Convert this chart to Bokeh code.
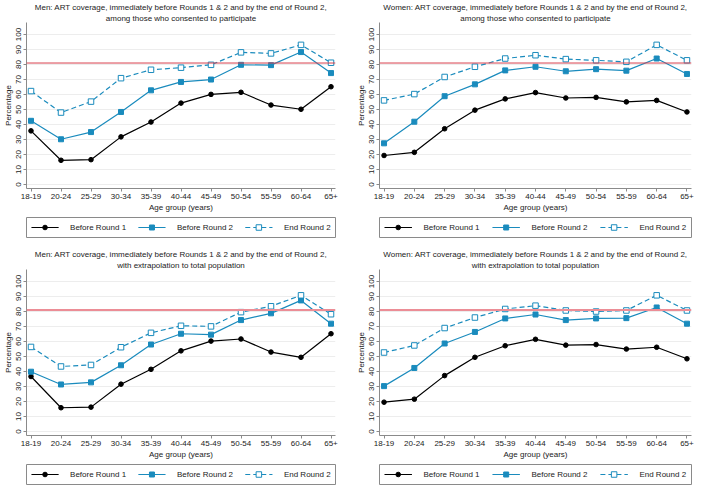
from bokeh.plotting import figure
from bokeh.layouts import column, row, Spacer
from bokeh.models import FixedTicker, Span, Title
from bokeh.core.properties import value
from bokeh.embed import file_html
from bokeh.resources import INLINE

age_groups = ["18-19", "20-24", "25-29", "30-34", "35-39", "40-44",
              "45-49", "50-54", "55-59", "60-64", "65+"]
series_names = ["Before Round 1", "Before Round 2", "End Round 2"]
target = 81
y_ticks = [0, 10, 20, 30, 40, 50, 60, 70, 80, 90, 100]

men_consented_r1 = [35.8, 16.2, 16.6, 31.8, 41.7, 54.3, 60.1, 61.5, 53.0, 50.2, 65.2]
men_consented_r2 = [42.5, 30.2, 35.0, 48.4, 62.8, 68.4, 70.0, 79.8, 79.6, 88.3, 74.3]
men_consented_end = [62.3, 48.0, 55.3, 70.9, 76.5, 77.9, 79.8, 88.1, 87.4, 93.1, 81.2]

women_consented_r1 = [19.4, 21.5, 37.2, 49.6, 57.1, 61.3, 57.7, 58.1, 55.1, 56.1, 48.4]
women_consented_r2 = [27.5, 41.9, 58.9, 66.8, 76.1, 78.5, 75.5, 76.9, 75.9, 84.0, 73.7]
women_consented_end = [56.1, 60.3, 71.7, 78.5, 84.0, 86.2, 83.6, 82.8, 81.8, 93.1, 82.8]

men_total_r1 = [36.7, 15.9, 16.3, 31.6, 41.5, 53.8, 60.3, 61.7, 53.0, 49.5, 65.2]
men_total_r2 = [39.9, 31.4, 32.8, 44.2, 58.0, 65.2, 64.6, 74.3, 78.8, 87.4, 71.9]
men_total_end = [56.4, 43.4, 44.4, 56.2, 65.8, 70.5, 70.1, 79.6, 83.5, 90.8, 78.2]

women_total_r1 = [19.6, 21.6, 37.3, 49.5, 57.2, 61.5, 57.6, 58.0, 55.0, 56.2, 48.5]
women_total_r2 = [30.3, 42.4, 58.7, 66.4, 75.4, 78.0, 74.3, 75.4, 75.6, 82.7, 71.9]
women_total_end = [52.7, 57.4, 69.0, 76.0, 81.7, 83.9, 80.7, 80.0, 80.7, 90.8, 80.7]

title_lines = [
    ("Men: ART coverage, immediately before Rounds 1 & 2 and by the end of Round 2,",
     "among those who consented to participate"),
    ("Women: ART coverage, immediately before Rounds 1 & 2 and by the end of Round 2,",
     "among those who consented to participate"),
    ("Men: ART coverage, immediately before Rounds 1 & 2 and by the end of Round 2,",
     "with extrapolation to total population"),
    ("Women: ART coverage, immediately before Rounds 1 & 2 and by the end of Round 2,",
     "with extrapolation to total population"),
]

FONT = "Liberation Sans"
BLUE = "#1a8bbd"
BLACK = "#000000"
AXIS = "#8a8a8a"
TXT = "#222222"
PW = 347


def main_plot(lines, r1, r2, end, red_color, red_width, left_border, right_border):
    x = list(range(len(age_groups)))
    p = figure(width=PW, height=214, output_backend="svg", toolbar_location=None,
               x_range=(-0.15, len(age_groups) - 0.85), y_range=(-2.6, 108),
               min_border_left=left_border, min_border_right=right_border,
               min_border_top=0, min_border_bottom=0)
    for txt in (lines[1], lines[0]):
        t = Title(text=txt, align="center", text_font=FONT, text_font_size="8px",
                  text_font_style="normal", text_color=TXT, standoff=0)
        p.add_layout(t, "above")
    p.outline_line_color = None
    p.background_fill_color = "white"
    p.border_fill_color = "white"

    p.xgrid.visible = False
    p.ygrid.ticker = FixedTicker(ticks=y_ticks)
    p.ygrid.grid_line_color = "#ededed"
    p.ygrid.grid_line_width = 1

    p.xaxis.ticker = FixedTicker(ticks=x)
    p.xaxis.major_label_overrides = {i: lab for i, lab in zip(x, age_groups)}
    p.yaxis.ticker = FixedTicker(ticks=y_ticks)
    p.yaxis.major_label_orientation = "vertical"
    for ax in (p.xaxis[0], p.yaxis[0]):
        ax.axis_line_color = AXIS
        ax.major_tick_line_color = AXIS
        ax.minor_tick_line_color = None
        ax.major_tick_in = 0
        ax.major_tick_out = 3
        ax.major_label_text_font = FONT
        ax.major_label_text_font_size = "8px"
        ax.major_label_text_color = TXT
        ax.major_label_standoff = 2
        ax.axis_label_text_font = FONT
        ax.axis_label_text_font_size = "8px"
        ax.axis_label_text_font_style = "normal"
        ax.axis_label_text_color = TXT
        ax.axis_label_standoff = 1
    p.xaxis.axis_label = "Age group (years)"
    p.yaxis.axis_label = "Percentage"

    p.add_layout(Span(location=target, dimension="width", line_color=red_color,
                      line_width=red_width))

    p.line(x, r1, line_color=BLACK, line_width=1.2)
    p.circle(x, r1, radius=2.3, radius_units="screen", fill_color=BLACK, line_color=BLACK)
    p.line(x, r2, line_color=BLUE, line_width=1.2)
    p.rect(x, r2, width=5, height=5, width_units="screen", height_units="screen",
           fill_color=BLUE, line_color=BLUE)
    p.line(x, end, line_color=BLUE, line_width=1.2, line_dash="5 3")
    p.rect(x, end, width=5.5, height=5.5, width_units="screen", height_units="screen",
           fill_color="white", line_color=BLUE, line_width=1)
    return p


def legend_strip(box_left, box_right):
    p = figure(width=PW, height=25, title=None, output_backend="svg",
               toolbar_location=None, x_range=(0, 1), y_range=(0, 1),
               x_axis_location=None, y_axis_location=None,
               min_border_left=box_left, min_border_right=PW - box_right,
               min_border_top=3, min_border_bottom=2)
    p.outline_line_color = AXIS
    p.outline_line_width = 1
    p.grid.visible = False
    p.background_fill_color = "white"
    p.border_fill_color = "white"
    yc = 0.5
    styles = [(BLACK, None, "circle"), (BLUE, None, "square"), (BLUE, "5 3", "hollow")]
    for k, (name, (col, dash, mk)) in enumerate(zip(series_names, styles)):
        g0 = 0.016 + 0.346 * k
        g1 = g0 + 0.088
        gm = (g0 + g1) / 2
        kw = {"line_dash": dash} if dash else {}
        p.line([g0, g1], [yc, yc], line_color=col, line_width=1.2, **kw)
        if mk == "circle":
            p.circle([gm], [yc], radius=2.3, radius_units="screen",
                     fill_color=col, line_color=col)
        elif mk == "square":
            p.rect([gm], [yc], width=5, height=5, width_units="screen",
                   height_units="screen", fill_color=col, line_color=col)
        else:
            p.rect([gm], [yc], width=5.5, height=5.5, width_units="screen",
                   height_units="screen", fill_color="white", line_color=col)
        p.text([0.141 + 0.346 * k], [yc], text=[name],
               text_font=value(FONT), text_font_size="8px", text_color=TXT,
               text_baseline="middle", text_align="left")
    return p


def panel(lines, r1, r2, end, red_color, red_width, right_side):
    if right_side:
        mp = main_plot(lines, r1, r2, end, red_color, red_width, 30, 3)
        lg = legend_strip(32, 344)
    else:
        mp = main_plot(lines, r1, r2, end, red_color, red_width, 21, 10)
        lg = legend_strip(24, 335)
    return column(mp, lg, spacing=0)


a = panel(title_lines[0], men_consented_r1, men_consented_r2, men_consented_end,
          "#d8404e", 1.0, False)
b = panel(title_lines[1], women_consented_r1, women_consented_r2, women_consented_end,
          "#d8404e", 1.0, True)
c = panel(title_lines[2], men_total_r1, men_total_r2, men_total_end,
          "#ec8d96", 2.2, False)
d = panel(title_lines[3], women_total_r1, women_total_r2, women_total_end,
          "#ec8d96", 2.2, True)

root = column(row(a, b, spacing=0), Spacer(height=8), row(c, d, spacing=0), spacing=0)

open("out.html", "w").write(file_html(root, INLINE))
